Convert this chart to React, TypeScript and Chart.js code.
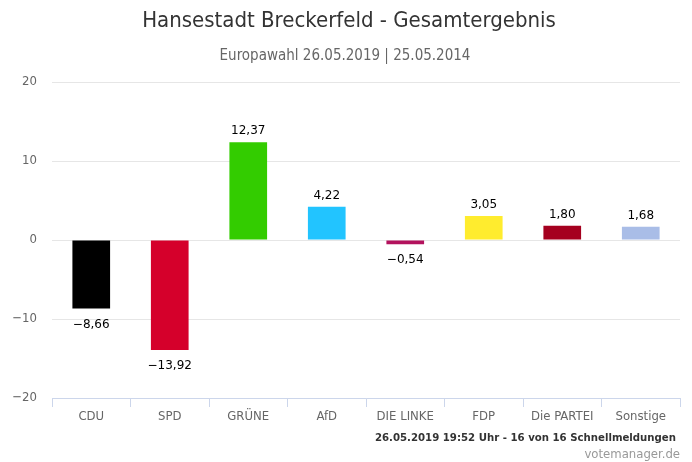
import React, { useEffect, useRef } from "react";
import { Chart, registerables } from "chart.js";

Chart.register(...registerables);

const categories = ["CDU", "SPD", "GRÜNE", "AfD", "DIE LINKE", "FDP", "Die PARTEI", "Sonstige"];
const values = [-8.66, -13.92, 12.37, 4.22, -0.54, 3.05, 1.8, 1.68];
const colors = ["#000000", "#d5002b", "#33cc00", "#22c4ff", "#b3125d", "#ffec2e", "#a5001f", "#a9bde7"];
const yTicks = [-20, -10, 0, 10, 20];
const titleText = "Hansestadt Breckerfeld - Gesamtergebnis";
const subtitleText = "Europawahl 26.05.2019 | 25.05.2014";
const footerText = "26.05.2019 19:52 Uhr - 16 von 16 Schnellmeldungen";
const creditText = "votemanager.de";

const FONT = "'DejaVu Sans Condensed', 'Liberation Sans Narrow', 'DejaVu Sans', sans-serif";
const LABEL_FONT = "'DejaVu Sans', sans-serif";

const fmt = (v: number) => v.toFixed(2).replace(".", ",").replace("-", "\u2212");

export default function App() {
  const ref = useRef<HTMLCanvasElement | null>(null);
  useEffect(() => {
    if (!ref.current) return;
    const textPlugin = {
      id: "texts",
      afterDraw(chart: any) {
        const ctx = chart.ctx;
        ctx.save();
        ctx.textAlign = "center";
        ctx.textBaseline = "middle";
        ctx.fillStyle = "#333333";
        ctx.font = `22px ${FONT}`;
        ctx.fillText(titleText, 349, 21);
        ctx.fillStyle = "#666666";
        ctx.font = `15px ${FONT}`;
        ctx.fillText(subtitleText, 345, 56);
        ctx.textAlign = "right";
        ctx.fillStyle = "#333333";
        ctx.font = `bold 11.3px ${FONT}`;
        ctx.fillText(footerText, 676, 438);
        ctx.fillStyle = "#999999";
        ctx.font = `13px ${FONT}`;
        ctx.fillText(creditText, 680, 455);
        ctx.restore();
      },
      afterDatasetsDraw(chart: any) {
        const ctx = chart.ctx;
        const meta = chart.getDatasetMeta(0);
        ctx.save();
        ctx.fillStyle = "#000000";
        ctx.font = `12px ${LABEL_FONT}`;
        ctx.textAlign = "center";
        meta.data.forEach((el: any, i: number) => {
          const v = values[i];
          if (v >= 0) {
            ctx.textBaseline = "bottom";
            ctx.fillText(fmt(v), el.x, el.y - 5);
          } else {
            ctx.textBaseline = "top";
            ctx.fillText(fmt(v), el.x, el.y + 10);
          }
        });
        ctx.restore();
      },
    };
    const chart = new Chart(ref.current, {
      type: "bar",
      data: {
        labels: categories,
        datasets: [
          {
            data: values,
            backgroundColor: colors,
            barPercentage: 0.48,
            categoryPercentage: 1,
          },
        ],
      },
      options: {
        animation: false,
        responsive: true,
        maintainAspectRatio: false,
        layout: { padding: { left: 0, right: 12, top: 82, bottom: 0 } },
        plugins: {
          legend: { display: false },
          tooltip: { enabled: false },
          title: { display: false },
        },
        scales: {
          x: {
            offset: true,
            grid: {
              offset: true,
              drawOnChartArea: false,
              drawTicks: true,
              tickLength: 9,
              color: "#ccd6eb",
            },
            border: { display: true, color: "#ccd6eb" },
            ticks: {
              color: "#666666",
              font: { family: FONT, size: 13 },
              padding: 2,
              maxRotation: 0,
            },
            afterFit(scale: any) {
              scale.height = 64;
            },
          },
          y: {
            min: -20,
            max: 20,
            afterBuildTicks(scale: any) {
              scale.ticks = yTicks.map((v) => ({ value: v }));
            },
            grid: { color: "#e6e6e6", drawTicks: false },
            border: { display: false },
            ticks: {
              color: "#666666",
              font: { family: FONT, size: 13 },
              padding: 15,
              callback: (v: any) => String(v).replace("-", "\u2212"),
            },
            afterFit(scale: any) {
              scale.width = 52;
            },
          },
        },
      },
      plugins: [textPlugin],
    });
    return () => chart.destroy();
  }, []);
  return (
    <div style={{ position: "fixed", left: 0, top: 0, width: 692, height: 462, background: "#fff" }}>
      <canvas ref={ref} />
    </div>
  );
}
